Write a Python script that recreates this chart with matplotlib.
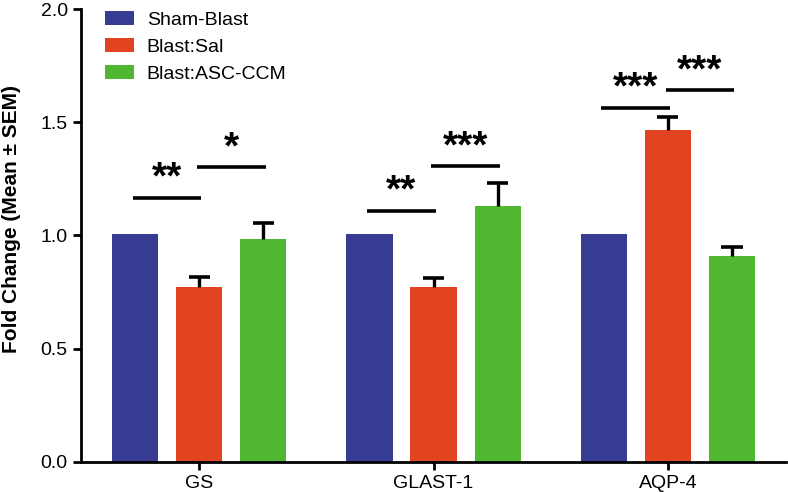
import matplotlib.pyplot as plt
import numpy as np

genes = ['GS', 'GLAST-1', 'AQP-4']
groups = ['Sham-Blast', 'Blast:Sal', 'Blast:ASC-CCM']
colors = ['#373c92', '#e24321', '#4fb830']

sham = [1.005, 1.005, 1.005]
sal = [0.771, 0.771, 1.467]
ccm = [0.985, 1.132, 0.911]

sham_sem = [0, 0, 0]
sal_sem = [0.047, 0.040, 0.055]
ccm_sem = [0.072, 0.098, 0.038]

# significance brackets: (gene index, bar from, bar to, height, label)
sig = [
    (0, 0, 1, 1.166, '**'),
    (0, 1, 2, 1.301, '*'),
    (1, 0, 1, 1.110, '**'),
    (1, 1, 2, 1.305, '***'),
    (2, 0, 1, 1.564, '***'),
    (2, 1, 2, 1.641, '***'),
]

plt.rcParams['font.family'] = ['Liberation Sans', 'DejaVu Sans']

fig = plt.figure(figsize=(7.88, 4.92), dpi=100)
ax = fig.add_axes([0.1028, 0.061, 0.895, 0.9207])

x = np.arange(len(genes))
offset = 0.2735
width = 0.197
cap = 0.045
values = [sham, sal, ccm]
sems = [sham_sem, sal_sem, ccm_sem]
for i in range(3):
    pos = x + (i - 1) * offset
    ax.bar(pos, values[i], width=width, color=colors[i], label=groups[i], zorder=2)
    for p, v, e in zip(pos, values[i], sems[i]):
        if e > 0:
            # upper error bar only
            ax.vlines(p, v, v + e, color='black', lw=2.4, zorder=3)
            ax.hlines(v + e, p - cap, p + cap, color='black', lw=2.6, zorder=3)

for g, a, b, h, lab in sig:
    x0 = g + (a - 1) * offset
    x1 = g + (b - 1) * offset
    ax.plot([x0 - 0.01, x1 + 0.01], [h, h], color='black', lw=2.6, solid_capstyle='butt')
    ax.text((x0 + x1) / 2, h + 0.005, lab, ha='center', va='bottom', fontsize=28, fontweight='bold')

ax.set_xlim(-0.504, 2.505)
ax.set_ylim(0, 2.0)
ax.set_yticks([0, 0.5, 1.0, 1.5, 2.0])
ax.set_yticklabels(['0.0', '0.5', '1.0', '1.5', '2.0'])
ax.set_xticks(x)
ax.set_xticklabels(genes)
ax.tick_params(axis='both', labelsize=14, width=2, length=6, color='black')
ax.spines['top'].set_visible(False)
ax.spines['right'].set_visible(False)
ax.spines['left'].set_linewidth(2)
ax.spines['bottom'].set_linewidth(2)
ax.set_ylabel('Fold Change (Mean \u00b1 SEM)', fontsize=15, fontweight='bold')
ax.yaxis.label.set_va('center')
ax.yaxis.set_label_coords(-0.098, 0.536)

ax.legend(loc='upper left', bbox_to_anchor=(0.034, 0.995), frameon=False, fontsize=14,
          borderpad=0, borderaxespad=0,
          handlelength=1.5, handleheight=0.72, labelspacing=0.48, handletextpad=0.65)

plt.savefig('out.png', dpi=100)
